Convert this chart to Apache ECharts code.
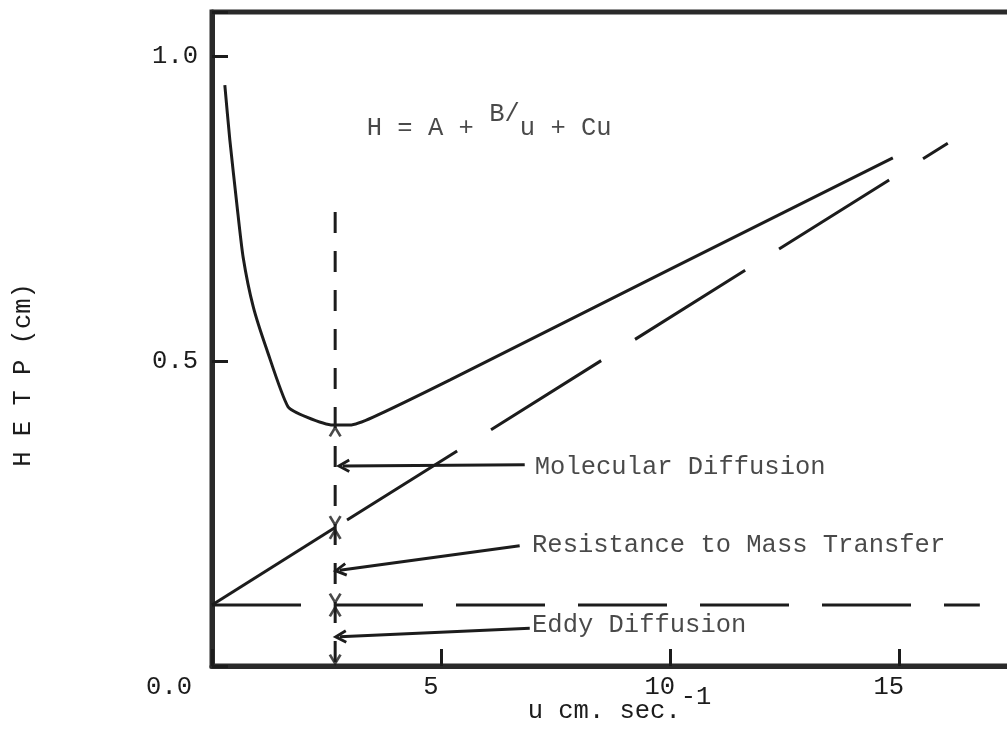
<!DOCTYPE html>
<html lang="en">
<head>
<meta charset="utf-8" />
<title>HETP vs u</title>
<script src="https://cdn.jsdelivr.net/npm/echarts@6/dist/echarts.min.js"></script>
<style>
  html, body { margin: 0; padding: 0; background: #fff; }
  #chart { width: 1007px; height: 736px; }
</style>
</head>
<body>
<div id="chart"></div>
<script>
// H = A + B/u + Cu curve
var curveU = [0.28, 0.39, 0.55, 0.68, 0.90, 1.20, 1.66, 2.07, 2.64, 3.01, 3.52, 5.20, 10.0, 14.87];
var curveH = [0.952, 0.862, 0.752, 0.670, 0.589, 0.518, 0.425, 0.408, 0.395, 0.395, 0.408, 0.469, 0.650, 0.833];

// A + Cu line (solid up to the optimum, dashed after) and the A line
var massU = [0, 2.69, 16.07];
var massH = [0.10, 0.227, 0.857];
var eddyU = [0, 16.77];
var eddyH = [0.10, 0.10];

// vertical line at the optimum velocity, with its dimension arrows
var optU = 2.69;
var optTop = 0.744;
var upMarks = [0.395, 0.227, 0.10];
var downMarks = [0.227, 0.10, 0.0];

// notes and their arrows
var noteText = ['Molecular Diffusion', 'Resistance to Mass Transfer', 'Eddy Diffusion'];
var noteU = [7.05, 6.99, 6.99];
var noteH = [0.326, 0.198, 0.067];
var arrowFrom = [[6.83, 0.330], [6.72, 0.197], [6.94, 0.062]];
var arrowTo = [[2.86, 0.328], [2.79, 0.157], [2.79, 0.048]];

var eqText = '{b|H = A + }{s|B/}{b|u + Cu}';
var eqU = 3.38, eqH = 0.893;

var xTicks = [5, 10, 15];
var yTicks = [0, 0.5, 1.0];

var ink = '#1c1c1c';
var font = 'Liberation Mono';
var fs = 25.5;
var upPath = 'path://M5,0 L10,9 L8.2,10 L5,4.2 L1.8,10 L0,9 Z';
var downPath = 'path://M0,1 L1.8,0 L5,5.8 L8.2,0 L10,1 L5,10 Z';

function zip(a, b) {
  return a.map(function (v, i) { return [v, b[i]]; });
}

var chart = echarts.init(document.getElementById('chart'));

chart.setOption({
  animation: false,
  backgroundColor: '#fff',
  grid: {
    left: 212, right: -20, top: 12, bottom: 70,
    outerBoundsMode: 'none',
    show: true, borderColor: '#2a2a2a', borderWidth: 5
  },
  xAxis: {
    type: 'value', min: 0, max: 17.8, interval: 5,
    axisLine: { lineStyle: { color: '#2a2a2a', width: 5 } },
    axisTick: { inside: true, length: 17, lineStyle: { color: ink, width: 3 } },
    splitLine: { show: false },
    axisLabel: {
      margin: 8, fontFamily: font, fontSize: fs, color: ink,
      padding: [0, 20, 0, 0],
      formatter: function (v) { return xTicks.indexOf(v) >= 0 ? String(v) : ''; }
    },
    name: '{b|u cm. sec.}{s|-1}',
    nameLocation: 'middle', nameGap: 18, nameMoveOverlap: false,
    nameTextStyle: {
      rich: {
        b: { fontFamily: font, fontSize: fs, color: ink, lineHeight: 40, verticalAlign: 'bottom' },
        s: { fontFamily: font, fontSize: fs, color: ink, lineHeight: 40, verticalAlign: 'top' }
      }
    }
  },
  yAxis: {
    type: 'value', min: 0, max: 1.072, interval: 0.5,
    axisLine: { show: true, lineStyle: { color: '#2a2a2a', width: 5 } },
    axisTick: { show: true, inside: true, length: 16, lineStyle: { color: ink, width: 3 } },
    splitLine: { show: false },
    axisLabel: {
      margin: 14, fontFamily: font, fontSize: fs, color: ink,
      formatter: function (v) {
        if (yTicks.indexOf(v) < 0) return '';
        return v === 0 ? '{low|0.0}' : v.toFixed(1);
      },
      rich: {
        low: { fontFamily: font, fontSize: fs, color: ink, padding: [42, 6, 0, 0] }
      }
    },
    name: 'H E T P (cm)',
    nameLocation: 'middle', nameRotate: 90, nameGap: 176, nameMoveOverlap: false,
    nameTextStyle: { fontFamily: font, fontSize: fs, color: ink, padding: [0, 72, 0, 0] }
  },
  series: [
    {
      name: 'curve', type: 'line', smooth: 0.2, symbol: 'none',
      data: zip(curveU, curveH),
      lineStyle: { color: ink, width: 3 }
    },
    {
      name: 'mass-solid', type: 'line', symbol: 'none',
      data: zip(massU.slice(0, 2), massH.slice(0, 2)),
      lineStyle: { color: ink, width: 3 }
    },
    {
      name: 'mass-dashed', type: 'line', symbol: 'none',
      data: zip(massU.slice(1), massH.slice(1)),
      lineStyle: { color: ink, width: 3, type: [130, 40], dashOffset: 156 }
    },
    {
      name: 'eddy', type: 'line', symbol: 'none',
      data: zip(eddyU, eddyH),
      lineStyle: { color: ink, width: 3, type: [89, 33] }
    },
    {
      name: 'optimum', type: 'line', symbol: 'none',
      data: [[optU, optTop], [optU, 0]],
      lineStyle: { color: ink, width: 3, type: [21, 18] }
    },
    {
      name: 'up-marks', type: 'scatter',
      symbol: upPath, symbolSize: [13, 12], symbolOffset: [0, 6],
      itemStyle: { color: ink },
      data: upMarks.map(function (h) { return [optU, h]; })
    },
    {
      name: 'down-marks', type: 'scatter',
      symbol: downPath, symbolSize: [13, 12], symbolOffset: [0, -6],
      itemStyle: { color: ink },
      data: downMarks.map(function (h) { return [optU, h]; })
    },
    {
      name: 'notes', type: 'scatter', symbolSize: 0,
      data: noteText.map(function (t, i) { return { value: [noteU[i], noteH[i]], name: t }; }),
      label: {
        show: true, position: 'right', distance: 0,
        fontFamily: font, fontSize: fs, color: ink,
        formatter: function (p) { return p.name; }
      },
      markLine: {
        silent: true, animation: false,
        symbol: ['none', upPath], symbolSize: 14,
        lineStyle: { color: ink, width: 3, type: 'solid' },
        label: { show: false },
        data: arrowFrom.map(function (f, i) {
          return [{ coord: f }, { coord: arrowTo[i] }];
        })
      }
    },
    {
      name: 'equation', type: 'scatter', symbolSize: 0,
      data: [[eqU, eqH]],
      label: {
        show: true, position: 'right', distance: 0,
        formatter: eqText,
        rich: {
          b: { fontFamily: font, fontSize: fs, color: ink, lineHeight: 40, verticalAlign: 'bottom' },
          s: { fontFamily: font, fontSize: fs, color: ink, lineHeight: 40, verticalAlign: 'top' }
        }
      }
    }
  ]
});
</script>
</body>
</html>
